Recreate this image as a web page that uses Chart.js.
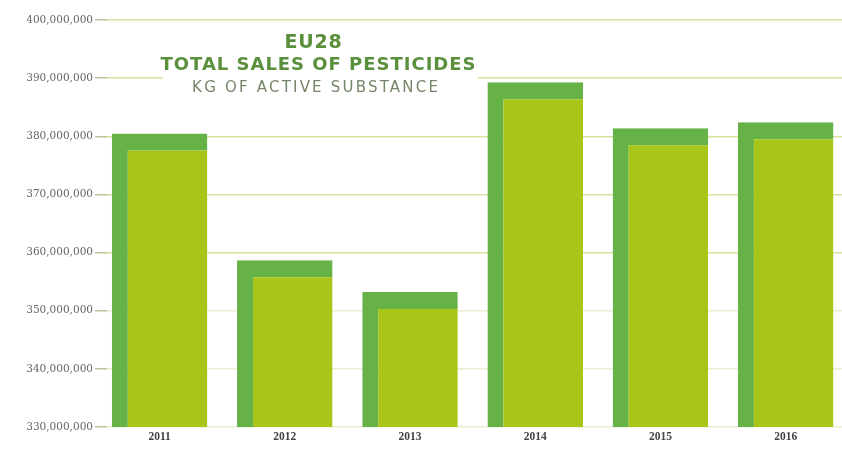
<!DOCTYPE html>
<html><head><meta charset="utf-8">
<script src="https://cdn.jsdelivr.net/npm/chart.js@4"></script>
<style>html,body{margin:0;padding:0;background:#fff;overflow:hidden}#wrap{width:842px;height:450px;position:relative}</style>
</head><body><div id="wrap"><canvas id="c" width="842" height="450"></canvas></div>
<script>
// ---- data ----
const years = ['2011', '2012', '2013', '2014', '2015', '2016'];
const sales = [380500000, 358700000, 353200000, 389300000, 381400000, 382400000];
const yTicks = [330000000, 340000000, 350000000, 360000000, 370000000, 380000000, 390000000, 400000000];
const titleLines = ['EU28', 'TOTAL SALES OF PESTICIDES', 'KG OF ACTIVE SUBSTANCE'];

const DARK = '#66b246';
const LIGHT = '#a8c61a';

function spacedText(ctx, text, cx, cy, target, font, color) {
  ctx.font = font;
  ctx.letterSpacing = '0px';
  const w = ctx.measureText(text).width;
  const ls = Math.max(0, (target - w) / text.length);
  ctx.letterSpacing = ls + 'px';
  ctx.fillStyle = color;
  ctx.textAlign = 'center';
  ctx.textBaseline = 'middle';
  ctx.fillText(text, cx + ls / 2, cy);
  ctx.letterSpacing = '0px';
}

const titlePlugin = {
  id: 'overTitle',
  beforeDatasetsDraw(chart) {
    const ctx = chart.ctx;
    ctx.save();
    ctx.fillStyle = '#ffffff';
    ctx.fillRect(163, 28, 315, 74);
    spacedText(ctx, titleLines[0], 313, 43, 58, 'bold 19px "DejaVu Sans"', '#5a8f3c');
    spacedText(ctx, titleLines[1], 318, 65, 316, 'bold 18px "DejaVu Sans"', '#5a8f3c');
    spacedText(ctx, titleLines[2], 315, 88, 248, '15px "DejaVu Sans"', '#76866a');
    ctx.restore();
  }
};

new Chart(document.getElementById('c'), {
  type: 'bar',
  data: {
    datasets: [{
      data: years.map((y, i) => ({ x: i, y: sales[i] })),
      backgroundColor: LIGHT,
      borderColor: DARK,
      borderWidth: { left: 16, top: 17, right: 0, bottom: 0 },
      borderSkipped: false,
      categoryPercentage: 1,
      barPercentage: 0.763
    }]
  },
  options: {
    responsive: false,
    animation: false,
    layout: { padding: { top: 20, right: 0, left: 0, bottom: 0 } },
    plugins: { legend: { display: false }, tooltip: { enabled: false }, title: { display: false } },
    scales: {
      x: {
        type: 'linear',
        offset: false,
        min: -0.42,
        max: 5.45,
        afterBuildTicks: s => { s.ticks = years.map((y, i) => ({ value: i })); },
        afterFit: s => { s.height = 23; },
        grid: { display: false, drawTicks: false, tickLength: 0, offset: false },
        border: { display: false },
        ticks: {
          callback: v => years[v] ?? '',
          autoSkip: false,
          maxRotation: 0,
          padding: 3,
          color: '#444',
          font: { family: '"Liberation Serif"', size: 11.5, weight: 'bold' }
        }
      },
      y: {
        min: 330000000,
        max: 400000000,
        afterBuildTicks: s => { s.ticks = yTicks.map(v => ({ value: v })); },
        afterFit: s => { s.width = 107; },
        border: { display: false },
        grid: {
          color: ctx => (ctx.tick && ctx.tick.value >= 360000000) ? 'rgba(205,212,120,0.7)' : 'rgba(205,212,140,0.4)',
          lineWidth: 1.5,
          tickLength: 12,
          tickColor: 'rgba(170,180,130,0.8)'
        },
        ticks: {
          callback: v => Number(v).toLocaleString('en-US'),
          padding: 2,
          color: '#666660',
          font: { family: '"DejaVu Serif"', size: 10.5 }
        }
      }
    }
  },
  plugins: [titlePlugin]
});
</script>
</body></html>
